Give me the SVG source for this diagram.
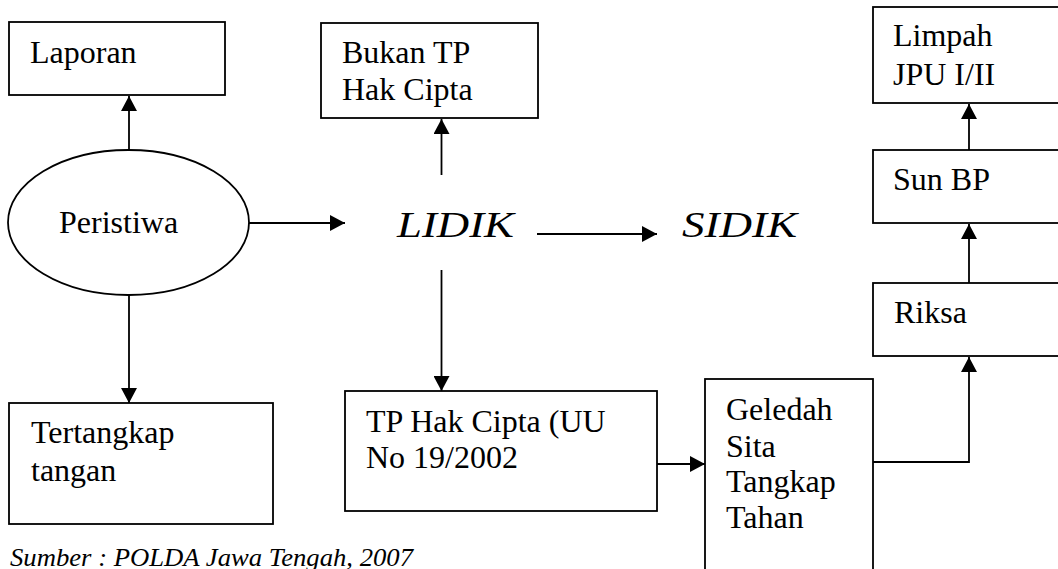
<svg xmlns="http://www.w3.org/2000/svg" width="1058" height="569" viewBox="0 0 1058 569">
<style>
.box{fill:#fff;stroke:#000;stroke-width:1.8}
.t{font-family:"Liberation Serif",Tinos,"Times New Roman","DejaVu Serif",serif;font-size:32px;fill:#000}
.s{font-family:"Liberation Serif",Tinos,"Times New Roman","DejaVu Serif",serif;font-style:italic;font-size:36px;fill:#000}
.cap{font-family:"Liberation Serif",Tinos,"Times New Roman","DejaVu Serif",serif;font-style:italic;font-size:25px;fill:#000}
.c{fill:none;stroke:#000;stroke-width:1.8}
</style>
<defs>
<marker id="ah" markerUnits="userSpaceOnUse" markerWidth="16" markerHeight="16" refX="15" refY="8" orient="auto">
<path d="M0,0 L15,8 L0,16 z" fill="#000"/>
</marker>
</defs>
<rect width="1058" height="569" fill="#fff"/>
<g id="connectors">
<line class="c" x1="129" y1="150" x2="129" y2="96" marker-end="url(#ah)"/>
<line class="c" x1="129" y1="295" x2="129" y2="403" marker-end="url(#ah)"/>
<line class="c" x1="249" y1="223" x2="345" y2="223" marker-end="url(#ah)"/>
<line class="c" x1="441.5" y1="175" x2="441.5" y2="119" marker-end="url(#ah)"/>
<line class="c" x1="441.5" y1="270" x2="441.5" y2="391" marker-end="url(#ah)"/>
<line class="c" x1="537" y1="234" x2="657" y2="234" marker-end="url(#ah)"/>
<line class="c" x1="657" y1="464" x2="705" y2="464" marker-end="url(#ah)"/>
<polyline class="c" points="873,462 969,462 969,357" marker-end="url(#ah)"/>
<line class="c" x1="969" y1="283" x2="969" y2="224" marker-end="url(#ah)"/>
<line class="c" x1="969" y1="150" x2="969" y2="104" marker-end="url(#ah)"/>
</g>
<g id="laporan">
<rect class="box" x="9" y="22" width="216" height="73"/>
<text class="t" x="30" y="63">Laporan</text>
</g>
<g id="peristiwa">
<ellipse class="box" cx="128.5" cy="222.5" rx="120.5" ry="72.5"/>
<text class="t" x="59" y="233">Peristiwa</text>
</g>
<g id="tertangkap">
<rect class="box" x="9" y="403" width="264" height="121"/>
<text class="t" x="31" y="443">Tertangkap</text>
<text class="t" x="31" y="481">tangan</text>
</g>
<g id="bukan">
<rect class="box" x="321" y="23" width="217" height="95"/>
<text class="t" x="342" y="63">Bukan TP</text>
<text class="t" x="342" y="100">Hak Cipta</text>
</g>
<g id="lidik">
<text class="s" x="397" y="237" textLength="117" lengthAdjust="spacingAndGlyphs">LIDIK</text>
</g>
<g id="sidik">
<text class="s" x="682" y="237" textLength="115" lengthAdjust="spacingAndGlyphs">SIDIK</text>
</g>
<g id="tphakcipta">
<rect class="box" x="345" y="391" width="312" height="120"/>
<text class="t" x="366" y="432">TP Hak Cipta (UU</text>
<text class="t" x="366" y="468">No 19/2002</text>
</g>
<g id="geledah">
<rect class="box" x="705" y="379" width="168" height="210"/>
<text class="t" x="726" y="420">Geledah</text>
<text class="t" x="726" y="457">Sita</text>
<text class="t" x="726" y="492">Tangkap</text>
<text class="t" x="726" y="528">Tahan</text>
</g>
<g id="riksa">
<rect class="box" x="873" y="283" width="200" height="73"/>
<text class="t" x="894" y="323">Riksa</text>
</g>
<g id="sunbp">
<rect class="box" x="873" y="150" width="200" height="73"/>
<text class="t" x="893" y="190">Sun BP</text>
</g>
<g id="limpah">
<rect class="box" x="873" y="7" width="200" height="96"/>
<text class="t" x="893" y="46">Limpah</text>
<text class="t" x="893" y="85">JPU I/II</text>
</g>
<g id="caption">
<text class="cap" x="10" y="566" textLength="403" lengthAdjust="spacingAndGlyphs">Sumber : POLDA Jawa Tengah, 2007</text>
</g>
</svg>
